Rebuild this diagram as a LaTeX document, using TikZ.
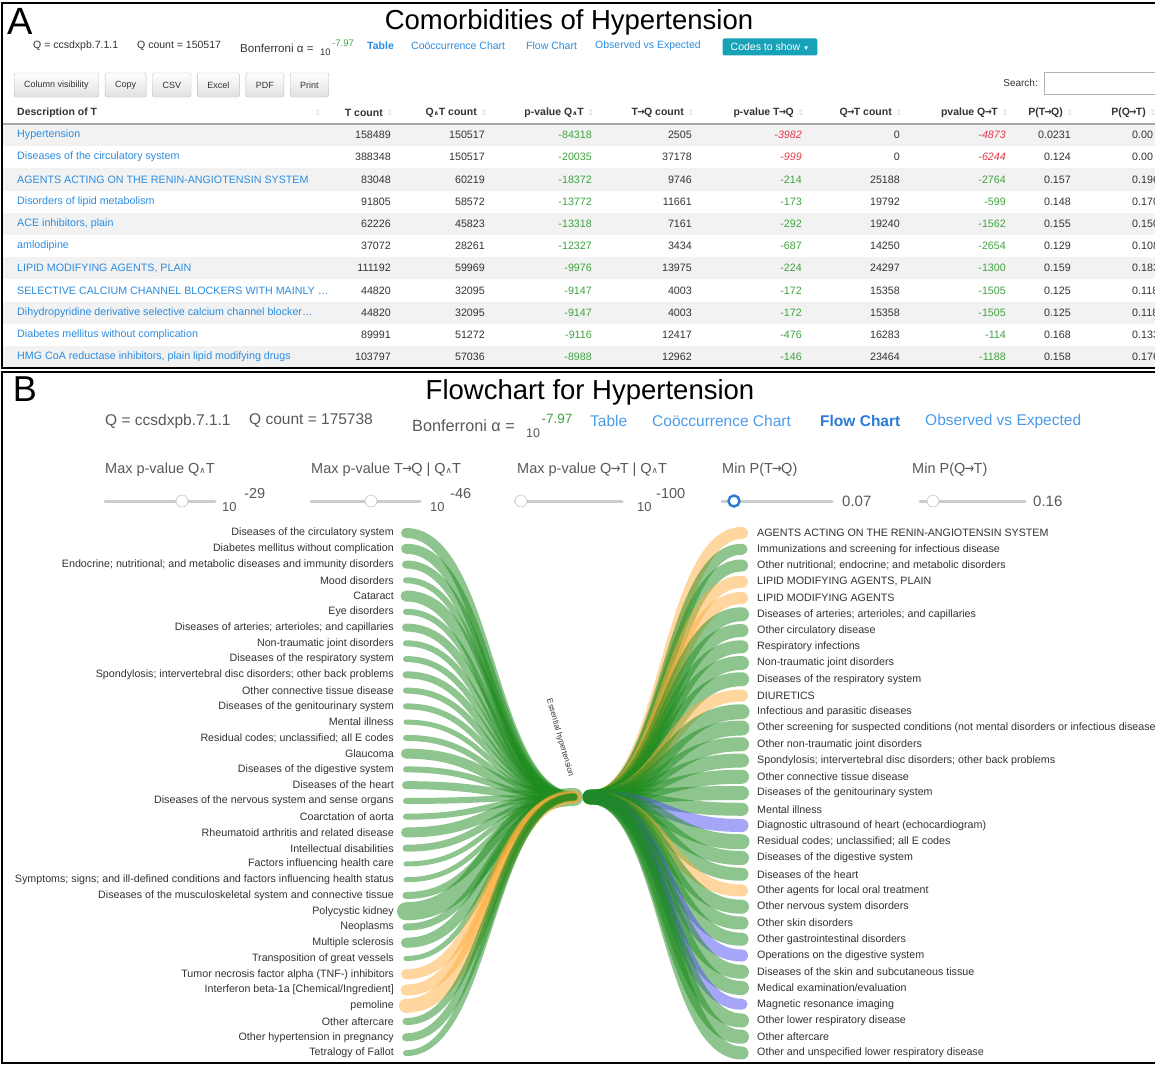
\documentclass[tikz,border=0pt]{standalone}
\usepackage{fontspec}
\setmainfont{Liberation Sans}
\newfontfamily\symfont{DejaVu Sans}
\usetikzlibrary{positioning}
\definecolor{linkblue}{HTML}{2B8CE0}
\definecolor{navblue}{HTML}{4C9BE8}
\definecolor{navbold}{HTML}{2A7AD6}
\definecolor{pgood}{HTML}{3FA33F}
\definecolor{pbad}{HTML}{E5394A}
\definecolor{btnteal}{HTML}{17A2B8}
\definecolor{txtgray}{HTML}{333333}
\definecolor{flowg}{HTML}{1E8C1E}
\definecolor{flowo}{HTML}{FFAE3C}
\definecolor{flowb}{HTML}{4E4EF2}
\newcommand{\fsz}[1]{\fontsize{#1}{#1}\selectfont}
\newcommand{\qand}{{\symfont\scalebox{0.6}{∧}}}
\newcommand{\arr}{{\kern-0.05em\symfont\scalebox{0.8}[1]{→}\kern-0.05em}}

\begin{document}
\begin{tikzpicture}[x=1pt, y=-1pt, inner sep=0pt,
  panel/.style={draw=black, line width=2.6pt},
  plain/.style={font=\fsz{10.5}, text=txtgray, anchor=west},
  weblink/.style={font=\fsz{10.7}, text=linkblue, anchor=west},
  btn/.style={draw=black!25, rounded corners=2pt, top color=white, bottom color=black!12, font=\fsz{9}, text=txtgray, minimum height=24pt, inner xsep=10pt},
  head/.style={font=\bfseries\fsz{10.5}, text=txtgray, anchor=east},
  cell/.style={font=\fsz{10.7}, text=txtgray, anchor=east},
  pvg/.style={cell, text=pgood},
  pvr/.style={cell, text=pbad, font=\itshape\fsz{10.7}},
  sorter/.style={font=\symfont\fsz{8}, text=black!15},
  info/.style={font=\fsz{15.5}, text=black!65, anchor=west},
  nav/.style={font=\fsz{15.5}, text=navblue, anchor=west},
  slabel/.style={font=\fsz{14.5}, text=black!65, anchor=west},
  track/.style={draw=black!20, line width=3pt, line cap=round},
  knob/.style={circle, draw=black!30, fill=white, minimum size=12pt},
  flowlabel/.style={font=\fsz{10.7}, text=txtgray},
  flow/.style={draw opacity=0.5, line width=#1pt, line cap=round}]
\useasboundingbox (0,0) rectangle (1155,1065);
\clip (0,0) rectangle (1155,1065);
\fill[white] (0,0) rectangle (1155,1065);

% ---------- panel A: table ----------
\foreach \i in {1,3,...,11}
  \fill[black!5] (3,{124+22.2*(\i-1)}) rectangle (1160,{124+22.2*\i});
\draw[panel] (2,3) rectangle (1170,368);
\node[font=\fsz{38}] (labA) at (20,21) {A};
\node[font=\fsz{27.5}] (titleA) at (569,22) {Comorbidities of Hypertension};
\node[plain] (qA) at (33,46) {Q = ccsdxpb.7.1.1};
\node[plain] (qcA) at (137,46) {Q count = 150517};
\node[plain, font=\fsz{11.6}] (bonA) at (240,48) {Bonferroni α =};
\node[plain, font=\fsz{9.5}] (tenA) at (320,52) {10};
\node[plain, font=\fsz{9.5}, text=pgood, anchor=base west] (expA) at ([xshift=1pt,yshift=9pt]tenA.base east) {-7.97};
\node[weblink, font=\bfseries\fsz{10.5}] (tabA) at (367,46) {Table};
\node[weblink, font=\fsz{10.5}] (coocA) at (411,46) {Coöccurrence Chart};
\node[weblink, font=\fsz{10.5}] (flowA) at (526,46) {Flow Chart};
\node[weblink, font=\fsz{10.5}] (obsA) at (595,46) {Observed vs Expected};
\node[fill=btnteal, text=white, rounded corners=2pt, font=\fsz{10.5}, minimum height=17pt, inner xsep=8pt] (codes) at (770,47) {Codes to show \scalebox{0.6}{▼}};

\node[btn, anchor=west] (colvis) at (14,85) {Column visibility};
\node[btn, right=6pt of colvis] (copy) {Copy};
\node[btn, right=6pt of copy] (csv) {CSV};
\node[btn, right=6pt of csv] (excel) {Excel};
\node[btn, right=6pt of excel] (pdf) {PDF};
\node[btn, right=6pt of pdf] (print) {Print};
\node[plain, font=\fsz{10}, anchor=east] (search) at (1038,83) {Search:};
\node[draw=black!30, minimum width=130pt, minimum height=22pt, right=6pt of search] (searchbox) {};

% header
\node[head, anchor=west] (hdesc) at (17,113) {Description of T};
\node[sorter] (sdesc) at (318,113) {↕};
\foreach \h/\x [count=\k] in {T count/391, Q\qand T count/485, p-value Q\qand T/592,
  T\arr Q count/692, p-value T\arr Q/802, Q\arr T count/900, pvalue Q\arr T/1006, P(T\arr Q)/1071, P(Q\arr T)/1154}{
  \node[head] (h\k) at (\x-8,113) {\h};
  \node[sorter] (s\k) at (\x-1,113) {↕};
}
\draw[black!35, line width=1.2pt] (3,124) -- (1160,124);

% rows
\foreach \desc/\tc/\qtc/\pqt/\tqc/\ptq/\qtcc/\pqtt/\ptoq/\pqtoq/\tone [count=\i] in {
  {Hypertension}/158489/150517/-84318/2505/-3982/0/-4873/0.0231/0.00/r,
  {Diseases of the circulatory system}/388348/150517/-20035/37178/-999/0/-6244/0.124/0.00/r,
  {AGENTS ACTING ON THE RENIN-ANGIOTENSIN SYSTEM}/83048/60219/-18372/9746/-214/25188/-2764/0.157/0.196/g,
  {Disorders of lipid metabolism}/91805/58572/-13772/11661/-173/19792/-599/0.148/0.170/g,
  {ACE inhibitors, plain}/62226/45823/-13318/7161/-292/19240/-1562/0.155/0.150/g,
  {amlodipine}/37072/28261/-12327/3434/-687/14250/-2654/0.129/0.108/g,
  {LIPID MODIFYING AGENTS, PLAIN}/111192/59969/-9976/13975/-224/24297/-1300/0.159/0.183/g,
  {SELECTIVE CALCIUM CHANNEL BLOCKERS WITH MAINLY …}/44820/32095/-9147/4003/-172/15358/-1505/0.125/0.118/g,
  {Dihydropyridine derivative selective calcium channel blocker…}/44820/32095/-9147/4003/-172/15358/-1505/0.125/0.118/g,
  {Diabetes mellitus without complication}/89991/51272/-9116/12417/-476/16283/-114/0.168/0.133/g,
  {HMG CoA reductase inhibitors, plain lipid modifying drugs}/103797/57036/-8988/12962/-146/23464/-1188/0.158/0.176/g}{
  \pgfmathsetmacro\ry{135+22.2*(\i-1)}
  \node[weblink] (d\i) at (17,\ry) {\desc};
  \node[cell] (tc\i) at (391,\ry) {\tc};
  \node[cell] (qtc\i) at (485,\ry) {\qtc};
  \node[pvg] (pqt\i) at (592,\ry) {\pqt};
  \node[cell] (tqc\i) at (692,\ry) {\tqc};
  \node[pv\tone] (ptq\i) at (802,\ry) {\ptq};
  \node[cell] (qtcc\i) at (900,\ry) {\qtcc};
  \node[pv\tone] (pqtt\i) at (1006,\ry) {\pqtt};
  \node[cell] (ptoq\i) at (1071,\ry) {\ptoq};
  \node[cell, anchor=west] (pqtoq\i) at (1132,\ry) {\pqtoq};
}

% ---------- panel B: flow chart ----------
\draw[panel] (1170,372) -- (2,372) -- (2,1063) -- (1170,1063);
\node[font=\fsz{36}] (labB) at (25,389) {B};
\node[font=\fsz{27.5}] (titleB) at (590,392) {Flowchart for Hypertension};
\node[info] (qB) at (105,421) {Q = ccsdxpb.7.1.1};
\node[info] (qcB) at (249,421) {Q count = 175738};
\node[info, font=\fsz{16.2}] (bonB) at (412,426) {Bonferroni α =};
\node[info, font=\fsz{12.5}] (tenB) at (526,433) {10};
\node[info, font=\fsz{13.5}, text=pgood, anchor=base west] (expB) at ([xshift=1pt,yshift=14pt]tenB.base east) {-7.97};
\node[nav] (tabB) at (590,421) {Table};
\node[nav] (coocB) at (652,421) {Coöccurrence Chart};
\node[nav, font=\bfseries\fsz{15.5}, text=navbold] (flowB) at (820,421) {Flow Chart};
\node[nav] (obsB) at (925,421) {Observed vs Expected};

% sliders
\node[slabel] (sl1) at (105,470) {Max p-value Q\qand T};
\node[slabel] (sl2) at (311,470) {Max p-value T\arr Q | Q\qand T};
\node[slabel] (sl3) at (517,470) {Max p-value Q\arr T | Q\qand T};
\node[slabel] (sl4) at (722,470) {Min P(T\arr Q)};
\node[slabel] (sl5) at (912,470) {Min P(Q\arr T)};
\foreach \a/\b in {105/215, 311/420, 515/622, 722/832, 920/1025}
  \draw[track] (\a,501) -- (\b,501);
\node[knob] (k1) at (182,501) {};
\node[knob] (k2) at (371,501) {};
\node[knob] (k3) at (521,501) {};
\node[knob, draw=navbold, line width=2.4pt, minimum size=11pt] (k4) at (734,501) {};
\node[knob] (k5) at (933,501) {};
\node[info, font=\fsz{13}] (v1b) at (222,507) {10};
\node[info, font=\fsz{14.5}] (v1e) at (244,494) {-29};
\node[info, font=\fsz{13}] (v2b) at (430,507) {10};
\node[info, font=\fsz{14.5}] (v2e) at (450,494) {-46};
\node[info, font=\fsz{13}] (v3b) at (637,507) {10};
\node[info, font=\fsz{14.5}] (v3e) at (656,494) {-100};
\node[info, font=\fsz{15}] (v4) at (842,501) {0.07};
\node[info, font=\fsz{15}] (v5) at (1033,501) {0.16};

% hub
\coordinate (hubL) at (574,797);
\coordinate (hubR) at (590,797);
\node[font=\fsz{8}, text=txtgray, rotate=-74] (hub) at (560,738) {Essential hypertension};

% left side
\foreach \txt/\w/\c [count=\i] in {
  {Diseases of the circulatory system}/10/g,
  {Diabetes mellitus without complication}/10/g,
  {Endocrine; nutritional; and metabolic diseases and immunity disorders}/8/g,
  {Mood disorders}/6/g,
  {Cataract}/11/g,
  {Eye disorders}/6/g,
  {Diseases of arteries; arterioles; and capillaries}/8/g,
  {Non-traumatic joint disorders}/6/g,
  {Diseases of the respiratory system}/6/g,
  {Spondylosis; intervertebral disc disorders; other back problems}/7/g,
  {Other connective tissue disease}/6/g,
  {Diseases of the genitourinary system}/6/g,
  {Mental illness}/5/g,
  {Residual codes; unclassified; all E codes}/6/g,
  {Glaucoma}/10/g,
  {Diseases of the digestive system}/6/g,
  {Diseases of the heart}/8/g,
  {Diseases of the nervous system and sense organs}/6/g,
  {Coarctation of aorta}/6/g,
  {Rheumatoid arthritis and related disease}/10/g,
  {Intellectual disabilities}/7/g,
  {Factors influencing health care}/5/g,
  {Symptoms; signs; and ill-defined conditions and factors influencing health status}/5/g,
  {Diseases of the musculoskeletal system and connective tissue}/7/g,
  {Polycystic kidney}/18/g,
  {Neoplasms}/7/g,
  {Multiple sclerosis}/10/g,
  {Transposition of great vessels}/5/g,
  {Tumor necrosis factor alpha (TNF-) inhibitors}/10/o,
  {Interferon beta-1a [Chemical/Ingredient]}/11/o,
  {pemoline}/14/o,
  {Other aftercare}/7/g,
  {Other hypertension in pregnancy}/8/g,
  {Tetralogy of Fallot}/6/g}{
  \node[flowlabel, anchor=east] (l\i) at (394,{533+15.76*(\i-1)}) {\txt};
  \draw[flow=\w, draw=flow\c] ([xshift=12pt]l\i.east) .. controls +(84,0) and +(-84,0) .. (hubL);
}

% right side
\foreach \txt/\w/\c [count=\i] in {
  {AGENTS ACTING ON THE RENIN-ANGIOTENSIN SYSTEM}/12/o,
  {Immunizations and screening for infectious disease}/11/g,
  {Other nutritional; endocrine; and metabolic disorders}/12/g,
  {LIPID MODIFYING AGENTS, PLAIN}/12/o,
  {LIPID MODIFYING AGENTS}/12/o,
  {Diseases of arteries; arterioles; and capillaries}/14/g,
  {Other circulatory disease}/13/g,
  {Respiratory infections}/13/g,
  {Non-traumatic joint disorders}/14/g,
  {Diseases of the respiratory system}/14/g,
  {DIURETICS}/12/o,
  {Infectious and parasitic diseases}/15/g,
  {Other screening for suspected conditions (not mental disorders or infectious disease}/15/g,
  {Other non-traumatic joint disorders}/14/g,
  {Spondylosis; intervertebral disc disorders; other back problems}/14/g,
  {Other connective tissue disease}/14/g,
  {Diseases of the genitourinary system}/14/g,
  {Mental illness}/13/g,
  {Diagnostic ultrasound of heart (echocardiogram)}/13/b,
  {Residual codes; unclassified; all E codes}/15/g,
  {Diseases of the digestive system}/14/g,
  {Diseases of the heart}/13/g,
  {Other agents for local oral treatment}/12/o,
  {Other nervous system disorders}/14/g,
  {Other skin disorders}/13/g,
  {Other gastrointestinal disorders}/13/g,
  {Operations on the digestive system}/12/b,
  {Diseases of the skin and subcutaneous tissue}/14/g,
  {Medical examination/evaluation}/14/g,
  {Magnetic resonance imaging}/11/b,
  {Other lower respiratory disease}/14/g,
  {Other aftercare}/14/g,
  {Other and unspecified lower respiratory disease}/13/g}{
  \node[flowlabel, anchor=west] (r\i) at (757,{533+16.25*(\i-1)}) {\txt};
  \draw[flow=\w, draw=flow\c] (hubR) .. controls +(76,0) and +(-76,0) .. ([xshift=-15pt]r\i.west);
}
\end{tikzpicture}
\end{document}
